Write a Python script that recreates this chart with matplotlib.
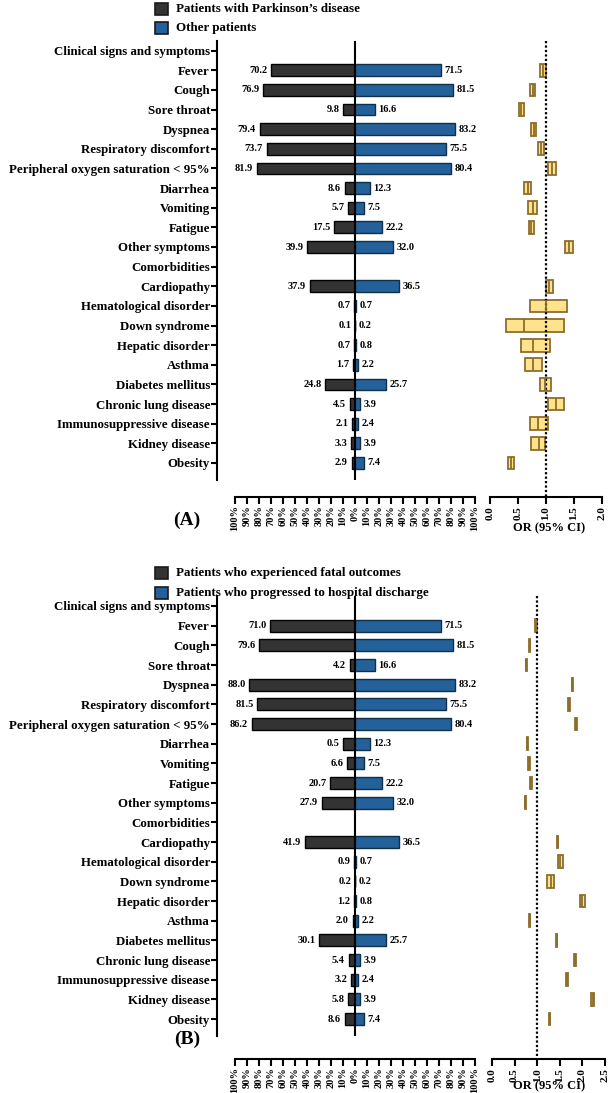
import matplotlib
matplotlib.use("Agg")
import matplotlib.pyplot as plt
from matplotlib.patches import Rectangle
import numpy as np

plt.rcParams['font.family'] = ['Liberation Serif', 'DejaVu Serif']
plt.rcParams['font.weight'] = 'bold'

# rows, top to bottom (headers have no bars)
rows = ["Clinical signs and symptoms", "Fever", "Cough", "Sore throat", "Dyspnea",
        "Respiratory discomfort", "Peripheral oxygen saturation < 95%", "Diarrhea",
        "Vomiting", "Fatigue", "Other symptoms", "Comorbidities", "Cardiopathy",
        "Hematological disorder", "Down syndrome", "Hepatic disorder", "Asthma",
        "Diabetes mellitus", "Chronic lung disease", "Immunosuppressive disease",
        "Kidney disease", "Obesity"]
headers = [0, 11]
data_rows = [i for i in range(len(rows)) if i not in headers]

# panel A
pd_pct = [70.2, 76.9, 9.8, 79.4, 73.7, 81.9, 8.6, 5.7, 17.5, 39.9,
          37.9, 0.7, 0.1, 0.7, 1.7, 24.8, 4.5, 2.1, 3.3, 2.9]
other_pct = [71.5, 81.5, 16.6, 83.2, 75.5, 80.4, 12.3, 7.5, 22.2, 32.0,
             36.5, 0.7, 0.2, 0.8, 2.2, 25.7, 3.9, 2.4, 3.9, 7.4]
or_a = [0.95, 0.76, 0.56, 0.78, 0.91, 1.10, 0.67, 0.76, 0.74, 1.41,
        1.06, 1.00, 0.60, 0.77, 0.76, 0.98, 1.18, 0.85, 0.87, 0.37]
lo_a = [0.89, 0.71, 0.51, 0.73, 0.86, 1.03, 0.61, 0.67, 0.70, 1.34,
        1.00, 0.71, 0.29, 0.55, 0.63, 0.90, 1.04, 0.71, 0.74, 0.32]
hi_a = [1.00, 0.81, 0.61, 0.83, 0.96, 1.18, 0.74, 0.84, 0.79, 1.49,
        1.12, 1.38, 1.33, 1.08, 0.93, 1.09, 1.33, 1.04, 0.99, 0.43]

# panel B
fatal_pct = [71.0, 79.6, 4.2, 88.0, 81.5, 86.2, 10.0, 6.6, 20.7, 27.9,
             41.9, 0.9, 0.2, 1.2, 2.0, 30.1, 5.4, 3.2, 5.8, 8.6]
fatal_lbl = ["71.0", "79.6", "4.2", "88.0", "81.5", "86.2", "0.5", "6.6", "20.7", "27.9",
             "41.9", "0.9", "0.2", "1.2", "2.0", "30.1", "5.4", "3.2", "5.8", "8.6"]
disch_pct = [71.5, 81.5, 16.6, 83.2, 75.5, 80.4, 12.3, 7.5, 22.2, 32.0,
             36.5, 0.7, 0.2, 0.8, 2.2, 25.7, 3.9, 2.4, 3.9, 7.4]
or_b = [0.97, 0.83, 0.76, 1.78, 1.70, 1.85, 0.78, 0.82, 0.87, 0.74,
        1.45, 1.51, 1.30, 2.00, 0.83, 1.43, 1.84, 1.66, 2.23, 1.28]
lo_b = [0.95, 0.82, 0.75, 1.76, 1.69, 1.83, 0.77, 0.80, 0.85, 0.72,
        1.43, 1.47, 1.22, 1.94, 0.82, 1.41, 1.81, 1.63, 2.20, 1.26]
hi_b = [0.99, 0.85, 0.78, 1.80, 1.72, 1.87, 0.80, 0.83, 0.88, 0.76,
        1.46, 1.56, 1.37, 2.05, 0.85, 1.44, 1.86, 1.68, 2.26, 1.29]

W, H = 610, 1093
DARK = '#333333'
BLUE = '#24619a'
BOXF = '#ffe38c'
BOXE = '#8c6d2c'

fig = plt.figure(figsize=(W / 100, H / 100), dpi=100)


def frac(x0, y0, x1, y1):
    return [x0 / W, 1 - y1 / H, (x1 - x0) / W, (y1 - y0) / H]


def panel(y0, step, y_axis, left, right, lleft, lright, orv, lo, hi, xmax,
          fx, fx1, tag, tag_y, or_y, leg, leg_y):
    top = y0 - 0.5 * step
    ybot = (y_axis - y0) / step
    ax = fig.add_axes(frac(217, top, 475, y_axis))
    ax.set_xlim(-115, 100)
    ax.set_ylim(ybot, -0.5)
    y = np.array(data_rows)
    ax.barh(y, [-v for v in left], height=0.6, color=DARK, edgecolor='black', lw=1)
    ax.barh(y, right, height=0.6, color=BLUE, edgecolor='#10304a', lw=1)
    for yy, v, s in zip(y, left, lleft):
        ax.text(-v - 3, yy, s, ha='right', va='center', fontsize=7.5)
    for yy, v, s in zip(y, right, lright):
        ax.text(v + 3, yy, s, ha='left', va='center', fontsize=7.5)
    ax.vlines(0, -0.5, 21.85, color='black', lw=1.5)
    for s in ['top', 'right']:
        ax.spines[s].set_visible(False)
    ax.spines['left'].set_bounds(21.85, -0.5)
    ax.spines['bottom'].set_bounds(-100, 100)
    ax.spines['left'].set_linewidth(1.5)
    ax.spines['bottom'].set_linewidth(1.5)
    ax.set_yticks(range(len(rows)))
    ax.set_yticklabels(rows, fontsize=9.3)
    ax.tick_params(axis='y', width=1.5, length=4, pad=1)
    ticks = list(range(-100, 101, 10))
    ax.set_xticks(ticks)
    ax.set_xticklabels([f"{abs(t)}%" for t in ticks], rotation=90, fontsize=7.5)
    ax.tick_params(axis='x', width=1.5, length=5, pad=1)

    af = fig.add_axes(frac(fx, top, fx1, y_axis))
    af.set_xlim(0, xmax)
    af.set_ylim(ybot, -0.5)
    af.patch.set_alpha(0)
    for s in ['top', 'right', 'left']:
        af.spines[s].set_visible(False)
    af.spines['bottom'].set_linewidth(1.5)
    af.set_yticks([])
    xt = np.arange(0, xmax + 0.01, 0.5)
    af.set_xticks(xt)
    af.set_xticklabels([f"{t:.1f}" for t in xt], rotation=90, fontsize=8)
    af.tick_params(axis='x', width=1.5, length=5, pad=1.5)
    af.vlines(1.0, -0.5, ybot, color='black', lw=1.6, linestyles=(0, (1, 1)))
    af.barh(y, np.array(hi) - np.array(lo), left=lo, height=0.65,
            color=BOXF, edgecolor=BOXE, lw=1.3)
    af.vlines(orv, y - 0.325, y + 0.325, color=BOXE, lw=1.3)
    fig.text(549 / W, 1 - or_y / H, "OR (95% CI)", ha='center', va='center', fontsize=9)

    fig.text(187 / W, 1 - tag_y / H, tag, ha='center', va='center', fontsize=14)
    for (lab, c), yy in zip(leg, leg_y):
        fig.patches.append(Rectangle((155 / W, 1 - (yy + 6) / H), 13 / W, 12 / H,
                                     transform=fig.transFigure, facecolor=c,
                                     edgecolor='#1a1a1a', lw=1.2))
        fig.text(176 / W, 1 - yy / H, lab, ha='left', va='center', fontsize=9.4)


panel(50.7, 19.63, 497, pd_pct, other_pct,
      [f"{v:.1f}" for v in pd_pct], [f"{v:.1f}" for v in other_pct],
      or_a, lo_a, hi_a, 2.0, 490, 602, "(A)", 520, 528,
      [("Patients with Parkinson\u2019s disease", DARK), ("Other patients", BLUE)], [9, 28])
panel(606, 19.67, 1059, fatal_pct, disch_pct,
      fatal_lbl, [f"{v:.1f}" for v in disch_pct],
      or_b, lo_b, hi_b, 2.5, 492, 605, "(B)", 1039, 1086,
      [("Patients who experienced fatal outcomes", DARK),
       ("Patients who progressed to hospital discharge", BLUE)], [573, 593])

fig.savefig("out.png", dpi=100)
